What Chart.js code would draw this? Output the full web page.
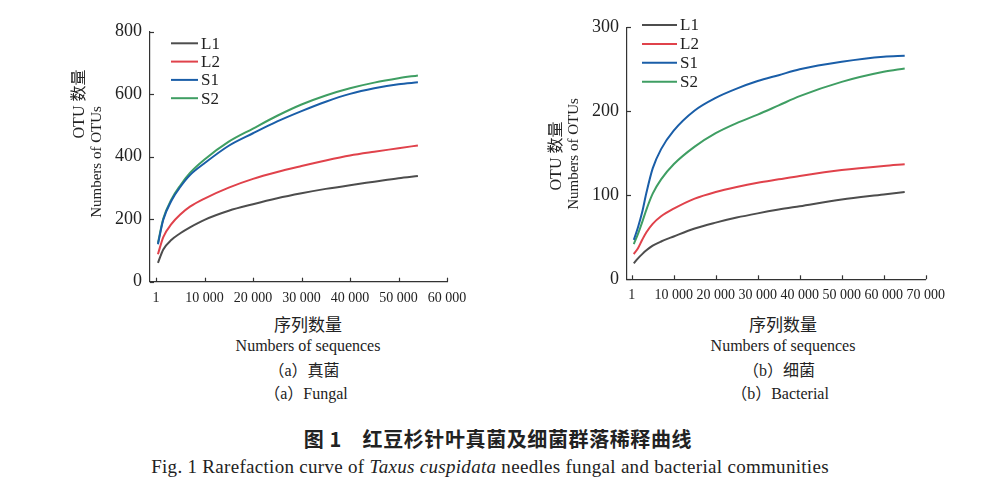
<!DOCTYPE html>
<html>
<head>
<meta charset="utf-8">
<script src="https://cdn.jsdelivr.net/npm/chart.js@4.4.0/dist/chart.umd.min.js"></script>
<style>
  html, body { margin:0; padding:0; background:#fff; }
  #wrap { position:relative; width:1000px; height:502px; background:#fff; overflow:hidden;
          font-family:'Liberation Serif','Times New Roman','Noto Sans CJK SC',serif; color:#222; }
  .box { position:absolute; }
  .t { position:absolute; white-space:nowrap; transform:translate(-50%,-50%); }
  .r { position:absolute; white-space:nowrap; transform:translate(-50%,-50%) rotate(-90deg); }
</style>
</head>
<body>
<div id="wrap">
  <div class="box" style="left:0;top:0;width:480px;height:310px"><canvas id="c1"></canvas></div>
  <div class="box" style="left:500px;top:0;width:480px;height:310px"><canvas id="c2"></canvas></div>

  <div class="r" style="left:77px;top:104px;font-size:16px">OTU 数量</div>
  <div class="r" style="left:96px;top:162px;font-size:15px">Numbers of OTUs</div>
  <div class="r" style="left:554px;top:156px;font-size:16px">OTU 数量</div>
  <div class="r" style="left:573px;top:154px;font-size:15px">Numbers of OTUs</div>

  <div class="t" style="left:308px;top:323px;font-size:17px">序列数量</div>
  <div class="t" style="left:308px;top:346px;font-size:16px">Numbers of sequences</div>
  <div class="t" style="left:304px;top:369px;font-size:16px">（a）真菌</div>
  <div class="t" style="left:306px;top:392px;font-size:16px">（a）Fungal</div>

  <div class="t" style="left:783px;top:323px;font-size:17px">序列数量</div>
  <div class="t" style="left:783px;top:346px;font-size:16px">Numbers of sequences</div>
  <div class="t" style="left:779px;top:369px;font-size:16px">（b）细菌</div>
  <div class="t" style="left:780px;top:392px;font-size:16px">（b）Bacterial</div>

  <div class="t" style="left:498px;top:438px;font-size:20px;letter-spacing:0.6px;font-weight:700;font-family:'Noto Sans CJK SC',sans-serif">图 1　红豆杉针叶真菌及细菌群落稀释曲线</div>
  <div class="t" style="left:490px;top:467px;font-size:19px;letter-spacing:0.3px">Fig. 1 Rarefaction curve of <i>Taxus cuspidata</i> needles fungal and bacterial communities</div>
</div>

<script>
// ---------- data ----------
const seriesNames = ['L1', 'L2', 'S1', 'S2'];
const seriesColors = ['#4d4d4d', '#e0424b', '#1a5ea8', '#3f9e63'];

// (a) Fungal
const fungalSeq = [400, 1500, 3200, 5000, 7000, 10000, 15000, 20000, 25000, 30000, 35000, 40000, 45000, 50000, 54000];
const fungalL1 = [60, 103, 134, 155, 174, 198, 227, 248, 267, 283, 297, 309, 320, 331, 338];
const fungalL2 = [88, 143, 185, 215, 240, 266, 301, 329, 351, 370, 388, 404, 416, 427, 436];
const fungalS1 = [120, 198, 260, 303, 341, 379, 435, 475, 513, 546, 576, 601, 619, 632, 638];
const fungalS2 = [124, 202, 264, 308, 348, 391, 448, 490, 531, 567, 596, 619, 637, 651, 660];
const fungalXTicks = [1, 10000, 20000, 30000, 40000, 50000, 60000];
const fungalXLabels = ['1', '10 000', '20 000', '30 000', '40 000', '50 000', '60 000'];
const fungalYTicks = [0, 200, 400, 600, 800];

// (b) Bacterial
const bactSeq = [500, 1500, 2500, 3500, 5000, 7000, 10000, 15000, 20000, 25000, 30000, 35000, 40000, 50000, 60000, 65000];
const bactL1 = [19, 25, 30, 34.5, 40, 45, 51, 60.5, 67.5, 73.5, 78.5, 83, 87, 95, 101, 104];
const bactL2 = [30, 37, 47, 56, 66, 75, 84, 96, 104, 110, 115, 119, 123, 130, 135, 137];
const bactS1 = [47, 62, 80, 103, 132, 155, 177, 201, 216, 227, 236, 243, 250, 259, 265, 266];
const bactS2 = [42, 54, 68, 83, 102, 119, 137, 158, 174, 186, 196, 207, 218, 235, 247, 251];
const bactXTicks = [1, 10000, 20000, 30000, 40000, 50000, 60000, 70000];
const bactXLabels = ['1', '10 000', '20 000', '30 000', '40 000', '50 000', '60 000', '70 000'];
const bactYTicks = [0, 100, 200, 300];

// ---------- helpers ----------
const SERIF = "'Liberation Serif','Times New Roman',serif";

function makeDatasets(xs, ys) {
  return ys.map((arr, i) => ({
    label: seriesNames[i],
    data: xs.map((x, j) => ({ x: x, y: arr[j] })),
    borderColor: seriesColors[i],
    backgroundColor: seriesColors[i],
    borderWidth: 2,
    pointRadius: 0,
    fill: false,
    cubicInterpolationMode: 'monotone',
    showLine: true
  }));
}

const decorPlugin = {
  id: 'decor',
  afterDraw(chart, args, opts) {
    const { ctx, chartArea: a, scales: { x, y } } = chart;
    ctx.save();
    ctx.strokeStyle = '#333';
    ctx.lineWidth = 1.2;
    // inward tick marks
    x.ticks.forEach(t => {
      const px = Math.round(x.getPixelForValue(t.value)) + 0.5;
      ctx.beginPath(); ctx.moveTo(px, a.bottom); ctx.lineTo(px, a.bottom - 4); ctx.stroke();
    });
    y.ticks.forEach(t => {
      const py = Math.round(y.getPixelForValue(t.value)) + 0.5;
      ctx.beginPath(); ctx.moveTo(a.left, py); ctx.lineTo(a.left + 4, py); ctx.stroke();
    });
    // legend
    ctx.font = '17px ' + SERIF;
    ctx.textBaseline = 'middle';
    ctx.textAlign = 'left';
    chart.data.datasets.forEach((ds, i) => {
      const yy = a.top + opts.top + i * opts.gap;
      ctx.strokeStyle = ds.borderColor;
      ctx.lineWidth = 2;
      ctx.beginPath();
      ctx.moveTo(a.left + opts.x0, yy);
      ctx.lineTo(a.left + opts.x1, yy);
      ctx.stroke();
      ctx.fillStyle = '#222';
      ctx.fillText(ds.label, a.left + opts.x1 + 3, yy + 1);
    });
    ctx.restore();
  }
};

function makeChart(id, xs, ys, xMin, xMax, xTicks, xLabels, yMax, yTicks, yWidth, xHeight, pad, legendOpts) {
  return new Chart(document.getElementById(id), {
    type: 'scatter',
    data: { datasets: makeDatasets(xs, ys) },
    options: {
      responsive: true,
      maintainAspectRatio: false,
      animation: false,
      layout: { padding: pad },
      plugins: { legend: { display: false }, tooltip: { enabled: false }, decor: legendOpts },
      scales: {
        x: {
          type: 'linear', min: xMin, max: xMax,
          afterBuildTicks: s => { s.ticks = xTicks.map(v => ({ value: v })); },
          afterFit: s => { s.height = xHeight; },
          grid: { display: false, drawTicks: false },
          border: { display: true, color: '#333', width: 1.2 },
          ticks: {
            padding: 8, color: '#222', maxRotation: 0, autoSkip: false,
            font: { family: SERIF, size: 14 },
            callback: (v, i) => xLabels[i]
          }
        },
        y: {
          type: 'linear', min: 0, max: yMax,
          afterBuildTicks: s => { s.ticks = yTicks.map(v => ({ value: v })); },
          afterFit: s => { s.width = yWidth; },
          grid: { display: false, drawTicks: false },
          border: { display: true, color: '#333', width: 1.2 },
          ticks: {
            padding: 8, color: '#222', autoSkip: false,
            font: { family: SERIF, size: 18 },
            callback: (v, i) => String(yTicks[i])
          }
        }
      }
    },
    plugins: [decorPlugin]
  });
}

makeChart('c1', fungalSeq, [fungalL1, fungalL2, fungalS1, fungalS2],
  -1240, 60000, fungalXTicks, fungalXLabels, 800, fungalYTicks,
  150, 28.3, { top: 31.7, right: 33, left: 0, bottom: 0 },
  { top: 11.6, gap: 18.3, x0: 21, x1: 48 });

makeChart('c2', bactSeq, [bactL1, bactL2, bactS1, bactS2],
  -1120, 70000, bactXTicks, bactXLabels, 300, bactYTicks,
  127, 30.7, { top: 27.3, right: 54.3, left: 0, bottom: 0 },
  { top: -2.3, gap: 18.9, x0: 15, x1: 50 });
</script>
</body>
</html>
